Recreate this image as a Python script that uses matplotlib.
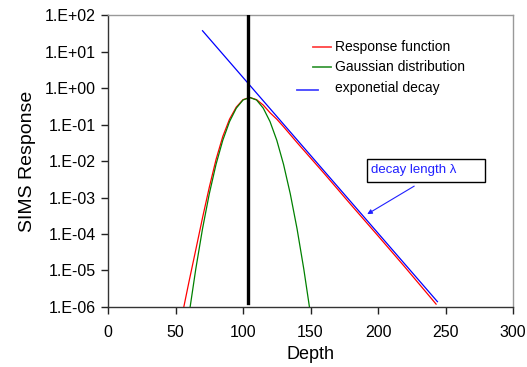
import numpy as np
import matplotlib.pyplot as plt
import matplotlib.ticker as mticker
from matplotlib.patches import Rectangle

plt.rcParams["font.family"] = ["Liberation Sans", "DejaVu Sans"]

# values
gauss_x = [60, 65, 70, 75, 80, 85, 90, 95, 100, 105, 110, 115, 120, 125, 130, 135, 140, 145, 150]
gauss_y = [6.3e-7, 1.1e-5, 1.4e-4, 1.26e-3, 8.1e-3, 3.7e-2, 0.12, 0.28, 0.47, 0.55,
           0.47, 0.28, 0.12, 3.7e-2, 8.1e-3, 1.26e-3, 1.4e-4, 1.1e-5, 6.3e-7]

resp_x = [55, 60, 65, 70, 75, 80, 85, 90, 95, 100, 105, 110, 115, 120, 125, 130,
          140, 160, 180, 200, 220, 243]
resp_y = [6.3e-7, 5.0e-6, 3.7e-5, 2.8e-4, 1.9e-3, 1.1e-2, 4.7e-2, 0.14, 0.30, 0.48, 0.55,
          0.48, 0.34, 0.21, 0.14, 8.7e-2, 3.2e-2, 4.6e-3, 6.3e-4, 8.9e-5, 1.23e-5, 1.2e-6]

decay_x = [70, 244]
decay_y = [37, 1.4e-6]

mark_x = [104, 104]
mark_y = [100, 1.3e-6]

xticks = [0, 50, 100, 150, 200, 250, 300]
yticks = [1e-6, 1e-5, 1e-4, 1e-3, 1e-2, 1e-1, 1e0, 1e1, 1e2]
ytick_labels = ["1.E-06", "1.E-05", "1.E-04", "1.E-03", "1.E-02", "1.E-01",
                "1.E+00", "1.E+01", "1.E+02"]

fig = plt.figure(figsize=(5.27, 3.67), dpi=100)
ax = fig.add_axes([0.205, 0.1635, 0.7685, 0.7956])

ax.plot(resp_x, resp_y, color="#ff0000", lw=0.9, zorder=3)
ax.plot(gauss_x, gauss_y, color="#008000", lw=0.9, zorder=3)
ax.plot(decay_x, decay_y, color="#0000ff", lw=0.9, zorder=4)
ax.plot(mark_x, mark_y, color="black", lw=2.4, zorder=5)

ax.set_yscale("log")
ax.set_xlim(0, 300)
ax.set_ylim(1e-6, 1e2)
ax.set_xticks(xticks)
ax.set_yticks(yticks)
ax.yaxis.set_major_formatter(mticker.FixedFormatter(ytick_labels))
ax.yaxis.set_minor_locator(mticker.NullLocator())

ax.tick_params(axis="both", direction="out", length=5, width=1, labelsize=11.5,
               colors="#222222", labelcolor="black")
ax.tick_params(axis="y", pad=4)
ax.tick_params(axis="x", pad=8)

for side in ["left", "bottom"]:
    ax.spines[side].set_color("#333333")
    ax.spines[side].set_linewidth(1)
for side in ["top", "right"]:
    ax.spines[side].set_color("#999999")
    ax.spines[side].set_linewidth(1)

ax.set_xlabel("Depth", fontsize=13, labelpad=4)
ax.set_ylabel("SIMS Response", fontsize=14, labelpad=6)

# hand-drawn legend, like the original
tr = ax.transAxes
ax.plot([0.506, 0.551], [0.890, 0.890], color="#ff4444", lw=1.3, transform=tr)
ax.plot([0.506, 0.551], [0.822, 0.822], color="#3a9a3a", lw=1.3, transform=tr)
ax.plot([0.467, 0.519], [0.743, 0.743], color="#4444ff", lw=1.3, transform=tr)
ax.text(0.560, 0.890, "Response function", fontsize=10, va="center", transform=tr)
ax.text(0.560, 0.822, "Gaussian distribution", fontsize=10, va="center", transform=tr)
ax.text(0.560, 0.750, "exponetial decay", fontsize=10, va="center", transform=tr)

# decay length label
ax.add_patch(Rectangle((0.640, 0.428), 0.291, 0.079, transform=tr, fill=False,
                       edgecolor="black", lw=1, zorder=6))
ax.text(0.649, 0.468, "decay length λ", color="#2020ff", fontsize=9.5,
        va="center", transform=tr, zorder=7)
ax.annotate("", xy=(0.640, 0.318), xytext=(0.756, 0.414), xycoords=tr, textcoords=tr,
            arrowprops=dict(arrowstyle="-|>", color="#2020ff", lw=0.8,
                            mutation_scale=7, shrinkA=0, shrinkB=0))

fig.savefig("out.png", dpi=100)
